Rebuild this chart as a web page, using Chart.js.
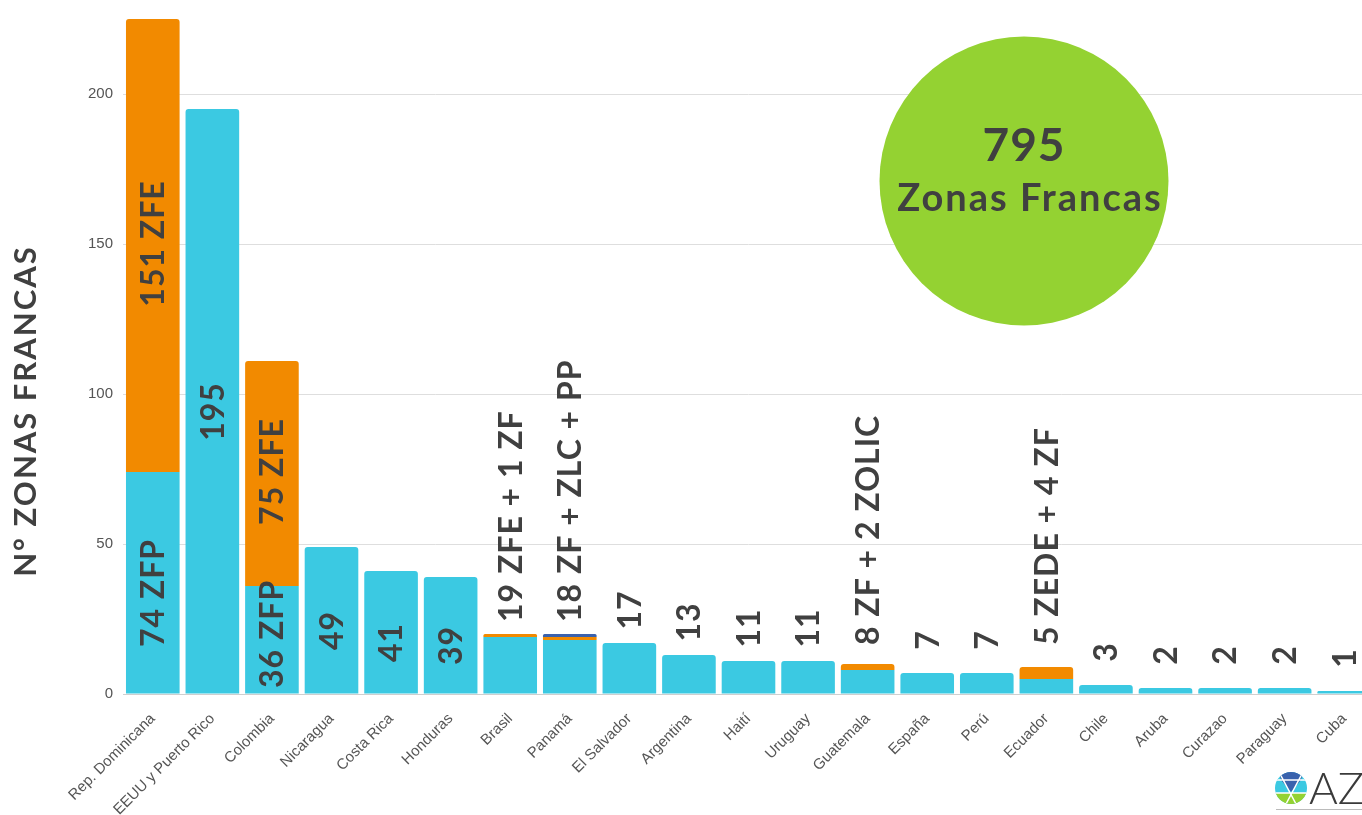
<!DOCTYPE html>
<html><head><meta charset="utf-8">
<script src="https://cdn.jsdelivr.net/npm/chart.js@4.4.1/dist/chart.umd.min.js"></script>
<style>
html,body{margin:0;padding:0;background:#fff;overflow:hidden;width:1362px;height:815px}
#wrap{position:absolute;left:0;top:0;width:1374px;height:815px}
</style></head>
<body><div id="wrap"><canvas id="c" width="1374" height="815"></canvas></div>
<script>
const countries = ["Rep. Dominicana","EEUU y Puerto Rico","Colombia","Nicaragua","Costa Rica","Honduras","Brasil","Panamá","El Salvador","Argentina","Haití","Uruguay","Guatemala","España","Perú","Ecuador","Chile","Aruba","Curazao","Paraguay","Cuba"];
const baseValues  = [74,195,36,49,41,39,19,18,17,13,11,11,8,7,7,5,3,2,2,2,1];
const extraValues = [151,0,75,0,0,0,1,1,0,0,0,0,2,0,0,4,0,0,0,0,0];
const ppValues    = [0,0,0,0,0,0,0,1,0,0,0,0,0,0,0,0,0,0,0,0,0];
const insideBaseLabels  = ["74 ZFP","195","36 ZFP","49","41","39",null,null,null,null,null,null,null,null,null,null,null,null,null,null,null];
const insideExtraLabels = ["151 ZFE",null,"75 ZFE",null,null,null,null,null,null,null,null,null,null,null,null,null,null,null,null,null,null];
const aboveLabels = [null,null,null,null,null,null,"19 ZFE + 1 ZF","18 ZF + ZLC + PP","17","13","11","11","8 ZF + 2 ZOLIC","7","7","5 ZEDE + 4 ZF","3","2","2","2","1"];
const yMax = 225;
const yStep = 50;
const yTitle = "N° ZONAS FRANCAS";
const totalCaption = "Zonas Francas";
const totalValue = baseValues.concat(extraValues, ppValues).reduce((a,b)=>a+b,0);

const CYAN = '#3bc9e2', ORANGE = '#f28a00', NAVY = '#3a62ad', GREEN = '#94d232', TEXT = '#404040';

function topRadius(higherSets){
  return ctx => {
    const i = ctx.dataIndex;
    return higherSets.some(a => a[i] > 0) ? 0 : {topLeft:3, topRight:3, bottomLeft:0, bottomRight:0};
  };
}

const overlay = {
  id:'overlay',
  afterDatasetsDraw(chart){
    const ctx = chart.ctx, xs = chart.scales.x, ys = chart.scales.y;
    ctx.save();
    ctx.fillStyle = TEXT;
    ctx.font = 'bold 32px Lato';
    ctx.letterSpacing = '1px';
    ctx.textBaseline = 'middle';
    const rot = (t, cx, cy, align) => { ctx.save(); ctx.translate(cx, cy); ctx.rotate(-Math.PI/2); ctx.textAlign = align; ctx.fillText(t, 0, 0); ctx.restore(); };
    countries.forEach((c, i) => {
      const cx = xs.getPixelForValue(i) + 1;
      const y0 = ys.getPixelForValue(0), yb = ys.getPixelForValue(baseValues[i]);
      const ye = ys.getPixelForValue(baseValues[i] + extraValues[i]);
      const yt = ys.getPixelForValue(baseValues[i] + extraValues[i] + ppValues[i]);
      if (insideBaseLabels[i]) {
        const w = ctx.measureText(insideBaseLabels[i]).width;
        rot(insideBaseLabels[i], cx, Math.min((y0 + yb) / 2 + 10, y0 - 6 - w / 2), 'center');
      }
      if (insideExtraLabels[i]) rot(insideExtraLabels[i], cx, (yb + ye) / 2 - 2, 'center');
      if (aboveLabels[i]) {
        if (aboveLabels[i].length <= 2) rot(aboveLabels[i], cx, yt - 33, 'center');
        else rot(aboveLabels[i], cx, Math.min(yt - 12, 645), 'left');
      }
    });
    // total circle
    ctx.fillStyle = GREEN;
    ctx.beginPath(); ctx.arc(1024, 181, 144.5, 0, Math.PI * 2); ctx.fill();
    ctx.fillStyle = TEXT;
    ctx.textAlign = 'center';
    ctx.letterSpacing = '1px';
    ctx.font = 'bold 46px Lato';
    ctx.fillText(String(totalValue), 1024, 146);
    ctx.letterSpacing = '2px';
    ctx.font = 'bold 38px Lato';
    ctx.fillText(totalCaption, 1030, 199);
    ctx.restore();
  },
  afterDraw(chart){
    const ctx = chart.ctx;
    ctx.save();
    ctx.fillStyle = TEXT;
    ctx.font = 'bold 31px Lato';
    ctx.letterSpacing = '2px';
    ctx.textAlign = 'center'; ctx.textBaseline = 'middle';
    ctx.translate(26, 411); ctx.rotate(-Math.PI/2);
    ctx.fillText(yTitle, 0, 0);
    ctx.restore();
    // logo
    ctx.save();
    const lx = 1291, ly = 788, r = 16;
    ctx.beginPath(); ctx.arc(lx, ly, r, 0, Math.PI*2); ctx.clip();
    ctx.fillStyle = CYAN; ctx.fillRect(lx - r, ly - r, 2*r, 2*r);
    ctx.fillStyle = GREEN; ctx.fillRect(lx - r, ly + 5, 2*r, r);
    ctx.fillStyle = NAVY;
    ctx.beginPath(); ctx.moveTo(lx - 12, ly - r); ctx.lineTo(lx + 12, ly - r); ctx.lineTo(lx + 10, ly - 8); ctx.lineTo(lx, ly + 4); ctx.lineTo(lx - 10, ly - 8); ctx.closePath(); ctx.fill();
    ctx.strokeStyle = '#fff'; ctx.lineWidth = 1.5;
    ctx.beginPath();
    ctx.moveTo(lx - r, ly - 8); ctx.lineTo(lx + r, ly - 8);
    ctx.moveTo(lx - 12, ly - r); ctx.lineTo(lx + 5, ly + r);
    ctx.moveTo(lx + 12, ly - r); ctx.lineTo(lx - 5, ly + r);
    ctx.moveTo(lx - r, ly + 5); ctx.lineTo(lx + r, ly + 5);
    ctx.stroke();
    ctx.restore();
    ctx.save();
    ctx.fillStyle = '#3a3a3a';
    ctx.font = '300 44px Lato';
    ctx.textBaseline = 'alphabetic'; ctx.textAlign = 'left';
    ctx.fillText('AZ', 1309, 804);
    ctx.strokeStyle = '#bbb'; ctx.lineWidth = 1;
    ctx.beginPath(); ctx.moveTo(1276, 809.5); ctx.lineTo(1362, 809.5); ctx.stroke();
    ctx.restore();
  }
};

new Chart(document.getElementById('c'), {
  type: 'bar',
  data: {
    labels: countries,
    datasets: [
      {data: baseValues, backgroundColor: CYAN, borderRadius: topRadius([extraValues, ppValues]), barPercentage: 0.9, categoryPercentage: 1},
      {data: extraValues, backgroundColor: ORANGE, borderRadius: topRadius([ppValues]), barPercentage: 0.9, categoryPercentage: 1},
      {data: ppValues, backgroundColor: NAVY, borderRadius: topRadius([]), barPercentage: 0.9, categoryPercentage: 1}
    ]
  },
  options: {
    responsive: false,
    animation: false,
    devicePixelRatio: 1,
    layout: {padding: {top: 19, right: 0, left: 0, bottom: 0}},
    plugins: {legend: {display: false}, tooltip: {enabled: false}},
    scales: {
      x: {
        stacked: true,
        grid: {display: false},
        border: {display: true, color: '#cfcfcf'},
        ticks: {color: '#555', font: {family: 'Liberation Sans', size: 15}, minRotation: 45, maxRotation: 45, padding: 8, autoSkip: false},
        afterFit(s){ s.height = 121; }
      },
      y: {
        stacked: true,
        min: 0, max: yMax,
        grid: {color: '#dedede', drawTicks: false},
        border: {display: false},
        ticks: {stepSize: yStep, includeBounds: false, color: '#555', font: {family: 'Liberation Sans', size: 15}, padding: 10},
        afterFit(s){ s.width = 123; }
      }
    }
  },
  plugins: [overlay]
});
</script>
</body></html>
